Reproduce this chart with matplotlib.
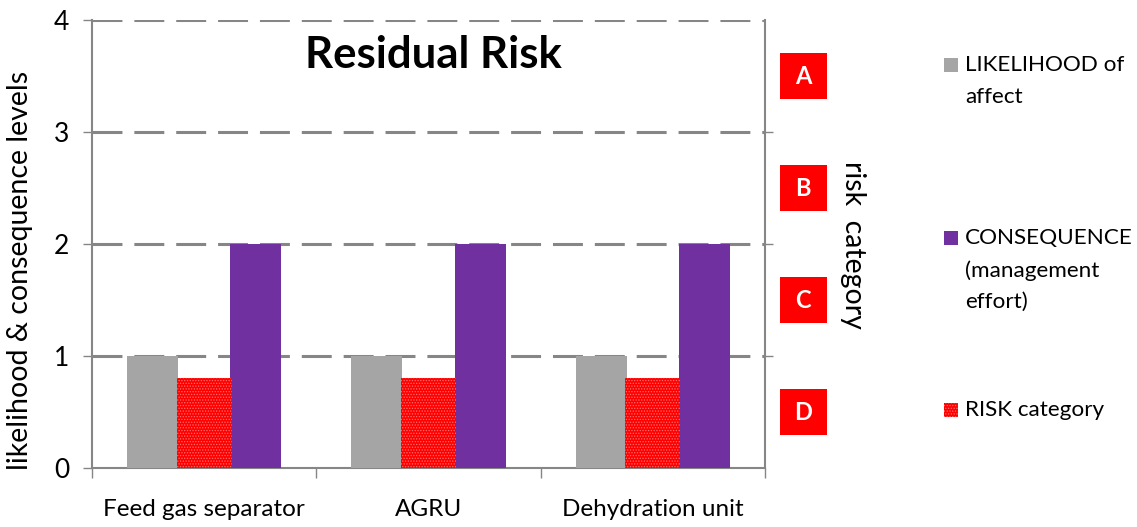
import numpy as np
import matplotlib.pyplot as plt
from matplotlib.patches import Rectangle
import matplotlib.transforms as mtransforms

plt.rcParams['font.family'] = ['Lato', 'DejaVu Sans']
plt.rcParams['hatch.linewidth'] = 0.6

# data
units = ['Feed gas separator', 'AGRU', 'Dehydration unit']
likelihood = [1, 1, 1]
risk_cat = [0.8, 0.8, 0.8]
consequence = [2, 2, 2]
risk_letters = ['D', 'C', 'B', 'A']
risk_letter_y = [0.5, 1.5, 2.5, 3.5]

grey = '#a5a5a5'
red = '#ff0000'
purple = '#7030a0'
axis_grey = '#868686'

fig = plt.figure(figsize=(11.37, 5.27), dpi=100)
ax = fig.add_axes([92/1137, 1-468/527, 673/1137, 448/527])

x = np.arange(len(units)) + 0.5
ax.bar(x - 0.23, likelihood, width=0.228, color=grey, zorder=3)
ax.bar(x, risk_cat, width=0.245, color=red, edgecolor='#ff7070',
       hatch='......', linewidth=0, zorder=4)
ax.bar(x + 0.23, consequence, width=0.228, color=purple, zorder=3)

ax.set_xlim(0, 3)
ax.set_ylim(0, 4)

# dashed grid
for yv in [1, 2, 3, 4]:
    ax.axhline(yv, color=axis_grey, linewidth=2.2, dashes=(9.8, 3.9), zorder=1)

ax.set_yticks([0, 1, 2, 3, 4])
ax.tick_params(axis='y', direction='out', length=6.5, width=1, color=axis_grey,
               labelsize=19, pad=10)
ax.set_xticks(x)
ax.set_xticklabels(units, fontsize=17.5)
ax.tick_params(axis='x', length=0, pad=22)
ax.set_xticks([0, 1, 2, 3], minor=True)
ax.tick_params(axis='x', which='minor', direction='out', length=7, width=1, color=axis_grey)

for s in ['left', 'bottom', 'right']:
    ax.spines[s].set_color(axis_grey)
    ax.spines[s].set_linewidth(1.5)
ax.spines['top'].set_visible(False)

ax.set_ylabel('likelihood & consequence levels', fontsize=20.5)
ax.yaxis.set_label_coords(-0.088, 0.44)

# right axis ticks
ax2 = ax.twinx()
ax2.set_ylim(0, 4)
ax2.set_yticks([1, 2, 3])
ax2.set_yticklabels([])
ax2.tick_params(axis='y', direction='out', length=6, width=1, color=axis_grey)
for s in ax2.spines.values():
    s.set_visible(False)

ax.text(0.508, 0.922, 'Residual Risk', transform=ax.transAxes, ha='center',
        va='center', fontsize=31.5, fontweight='bold')

# risk category boxes
trans = mtransforms.blended_transform_factory(ax.transAxes, ax.transData)
bw = 47/673
bh = 0.41
for letter, yv in zip(risk_letters, risk_letter_y):
    ax.add_patch(Rectangle((1.0565 - bw/2, yv - bh/2), bw, bh, transform=trans,
                           facecolor=red, edgecolor='none', clip_on=False))
    ax.text(1.0565, yv, letter, transform=trans, ha='center', va='center',
            color='white', fontsize=17, fontweight='bold', clip_on=False)

fig.text(853/1137, 1-245/527, 'risk  category', rotation=-90, ha='center',
         va='center', fontsize=20.5)

# legend
leg_items = [('LIKELIHOOD of\naffect', grey, None, 65),
             ('CONSEQUENCE\n(management\neffort)', purple, None, 238),
             ('RISK category', red, '......', 410)]
for label, col, hatch, py in leg_items:
    fig.patches.append(Rectangle((944/1137, 1-(py+7)/527), 14/1137, 14/527,
                                 transform=fig.transFigure, facecolor=col,
                                 edgecolor='#ff7070' if hatch else 'none',
                                 hatch=hatch, linewidth=0))
    fig.text(965/1137, 1-(py-10)/527, label, ha='left', va='top', fontsize=16.2,
             linespacing=1.72)

fig.savefig('out.png', dpi=100)
